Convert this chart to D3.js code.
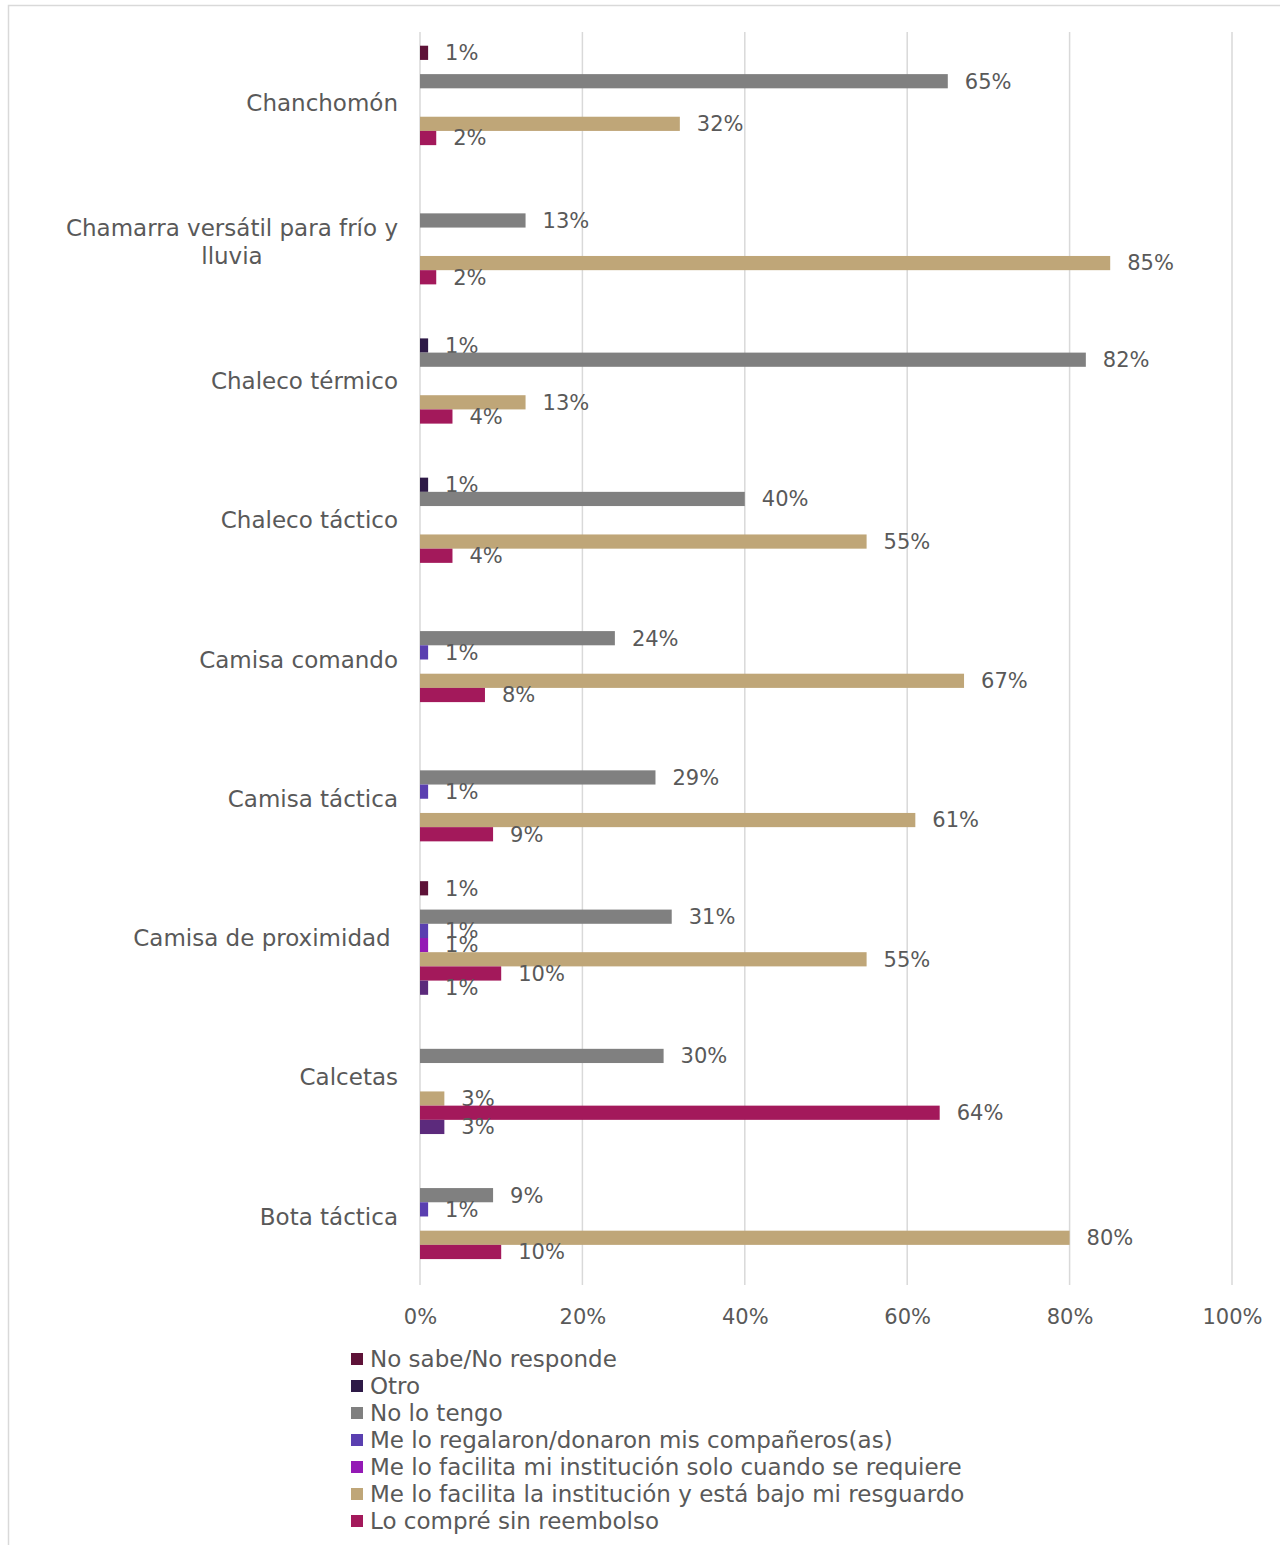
<!DOCTYPE html>
<html>
<head>
<meta charset="utf-8">
<script src="https://cdn.jsdelivr.net/npm/d3@7"></script>
<style>
  html, body { margin: 0; padding: 0; background: #ffffff; }
  svg { display: block; }
  text { font-family: "DejaVu Sans", sans-serif; fill: #595959; }
</style>
</head>
<body>
<div id="chart"></div>
<script>
// ---- Data ----
const categories = [
  "Chanchomón",
  "Chamarra versátil para frío y lluvia",
  "Chaleco térmico",
  "Chaleco táctico",
  "Camisa comando",
  "Camisa táctica",
  "Camisa de proximidad\u00A0",
  "Calcetas",
  "Bota táctica"
];
const seriesNames = [
  "No sabe/No responde",
  "Otro",
  "No lo tengo",
  "Me lo regalaron/donaron mis compañeros(as)",
  "Me lo facilita mi institución solo cuando se requiere",
  "Me lo facilita la institución y está bajo mi resguardo",
  "Lo compré sin reembolso",
  "Lo compré con reembolso"
];
const legendShown = 7; // the eighth legend entry falls outside the picture
const seriesColors = ["#5e1238", "#2e1a47", "#808080", "#5a3fb0", "#9419b5", "#bfa678", "#a3195b", "#5c2a7c"];
// values per series, in category order (null = no bar)
const noSabe      = [1, null, null, null, null, null, 1, null, null];
const otro        = [null, null, 1, 1, null, null, null, null, null];
const noLoTengo   = [65, 13, 82, 40, 24, 29, 31, 30, 9];
const regalaron   = [null, null, null, null, 1, 1, 1, null, 1];
const soloCuando  = [null, null, null, null, null, null, 1, null, null];
const resguardo   = [32, 85, 13, 55, 67, 61, 55, 3, 80];
const compre      = [2, 2, 4, 4, 8, 9, 10, 64, 10];
const conReembolso= [null, null, null, null, null, null, 1, 3, null];
const seriesValues = [noSabe, otro, noLoTengo, regalaron, soloCuando, resguardo, compre, conReembolso];
const xTicks = [0, 20, 40, 60, 80, 100];

// ---- Layout ----
const W = 1280, H = 1545;
const plot = { left: 420, right: 1232, top: 32, bottom: 1285 };
const bandShift = 1.5;

const svg = d3.select("#chart").append("svg").attr("width", W).attr("height", H);

// outer frame
svg.append("rect")
  .attr("x", 8.5).attr("y", 5.5).attr("width", W + 20).attr("height", H + 20)
  .attr("fill", "none").attr("stroke", "#d9d9d9").attr("stroke-width", 1.5);

const x = d3.scaleLinear().domain([0, 100]).range([plot.left, plot.right]);
const y = d3.scaleBand().domain(categories).range([plot.top + bandShift - 0.6, plot.bottom + bandShift - 0.4])
  .paddingInner(0.184).paddingOuter(0.092);
const ySub = d3.scaleBand().domain(d3.range(seriesNames.length)).range([0, y.bandwidth()]).padding(0);

// gridlines
svg.append("g").selectAll("line").data(xTicks).join("line")
  .attr("x1", d => x(d)).attr("x2", d => x(d))
  .attr("y1", plot.top).attr("y2", plot.bottom)
  .attr("stroke", "#d9d9d9").attr("stroke-width", 1.5);

// x axis tick labels
const xAxis = d3.axisBottom(x).tickValues(xTicks).tickFormat(d => d + "%").tickSize(0).tickPadding(0);
const gx = svg.append("g").attr("transform", `translate(0,${plot.bottom})`).call(xAxis);
gx.select(".domain").remove();
gx.selectAll("text")
  .attr("y", 32).attr("dy", "0.35em")
  .style("font-family", '"DejaVu Sans", sans-serif')
  .style("font-size", "21px").attr("fill", "#595959");

// bars
const groups = svg.append("g").selectAll("g").data(categories).join("g")
  .attr("transform", d => `translate(0,${y(d)})`);

const cells = groups.selectAll("g.cell")
  .data((c, ci) => seriesNames.map((s, si) => ({ c, si, v: seriesValues[si][ci] })).filter(d => d.v != null))
  .join("g").attr("class", "cell");

cells.append("rect")
  .attr("x", x(0))
  .attr("y", d => ySub(d.si))
  .attr("width", d => x(d.v) - x(0))
  .attr("height", ySub.bandwidth())
  .attr("fill", d => seriesColors[d.si]);

cells.append("text")
  .attr("x", d => x(d.v) + 17)
  .attr("y", d => ySub(d.si) + ySub.bandwidth() / 2)
  .attr("dy", "0.35em")
  .style("font-size", "21px")
  .text(d => d.v + "%");

// category labels (wrapped, centered lines, right edge at 398)
const labelRight = 398, maxLabelWidth = 340, lineH = 28;
const catG = svg.append("g");
categories.forEach(c => {
  const cy = y(c) + y.bandwidth() / 2;
  const t = catG.append("text").style("font-size", "23px").attr("xml:space", "preserve");
  const words = c.split(" ");
  const lines = [];
  let cur = "";
  const probe = catG.append("text").style("font-size", "23px");
  words.forEach(w => {
    const test = cur ? cur + " " + w : w;
    probe.text(test);
    if (probe.node().getComputedTextLength() > maxLabelWidth && cur) { lines.push(cur); cur = w; }
    else cur = test;
  });
  lines.push(cur);
  probe.remove();
  const widths = lines.map(l => { const p = catG.append("text").style("font-size", "23px").text(l); const w = p.node().getComputedTextLength(); p.remove(); return w; });
  const blockW = d3.max(widths);
  const cx = labelRight - blockW / 2;
  const anchor = lines.length > 1 ? "middle" : "end";
  lines.forEach((l, i) => {
    t.append("tspan")
      .attr("x", anchor === "middle" ? cx : labelRight)
      .attr("y", cy + (i - (lines.length - 1) / 2) * lineH)
      .attr("dy", "0.35em")
      .text(l);
  });
  t.attr("text-anchor", anchor);
});

// legend
const legend = svg.append("g").selectAll("g").data(seriesNames.slice(0, legendShown)).join("g")
  .attr("transform", (d, i) => `translate(351,${1359 + i * 27})`);
legend.append("rect").attr("x", 0).attr("y", -6).attr("width", 12).attr("height", 12)
  .attr("fill", (d, i) => seriesColors[i]);
legend.append("text").attr("x", 19).attr("y", 0).attr("dy", "0.35em")
  .style("font-size", "23px").text(d => d);
</script>
</body>
</html>
